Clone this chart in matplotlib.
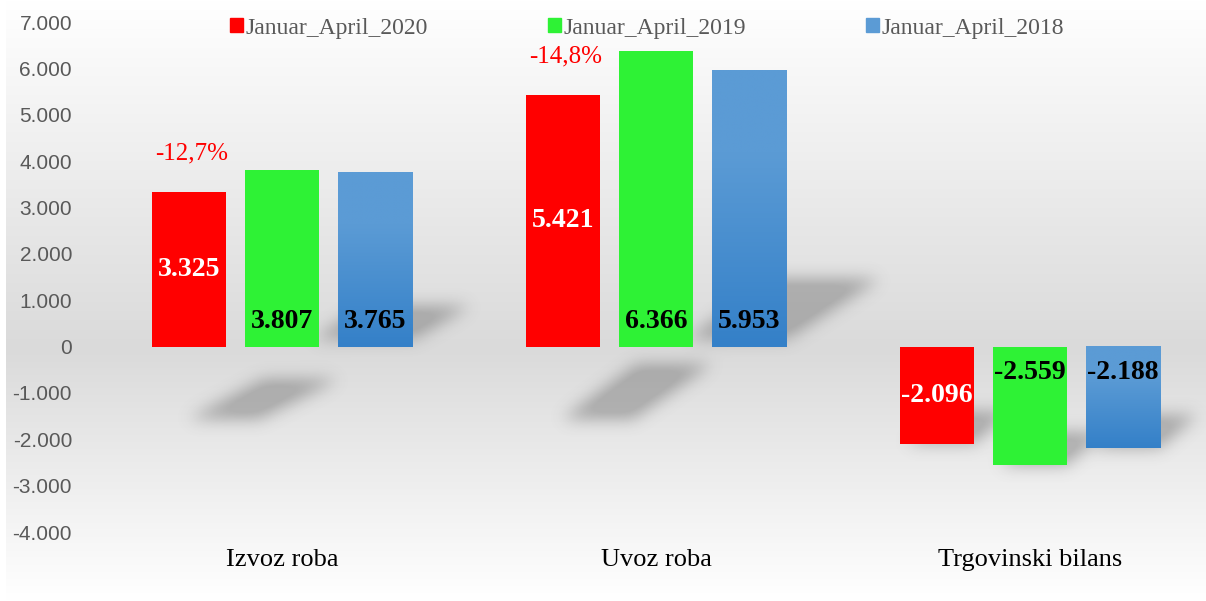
import numpy as np
import matplotlib.pyplot as plt
from matplotlib.path import Path
from matplotlib.patches import Rectangle

# data
categories = ["Izvoz roba", "Uvoz roba", "Trgovinski bilans"]
series_names = ["Januar_April_2020", "Januar_April_2019", "Januar_April_2018"]
values_2020 = [3325, 5421, -2096]
values_2019 = [3807, 6366, -2559]
values_2018 = [3765, 5953, -2188]
change_labels = ["-12,7%", "-14,8%", None]
yticks = [-4000, -3000, -2000, -1000, 0, 1000, 2000, 3000, 4000, 5000, 6000, 7000]

RED = "#ff0000"
GREEN = "#2ef235"
BLUE_TOP = np.array([91, 155, 213]) / 255
BLUE_BOT = np.array([52, 128, 200]) / 255
SERIF = "Liberation Serif"
SANS = "Liberation Sans"


def fmt(v):
    return f"{v:,}".replace(",", ".")


def blur(a, s):
    r = int(3 * s)
    k = np.exp(-0.5 * (np.arange(-r, r + 1) / s) ** 2)
    k /= k.sum()
    a = np.apply_along_axis(lambda m: np.convolve(m, k, mode="same"), 0, a)
    a = np.apply_along_axis(lambda m: np.convolve(m, k, mode="same"), 1, a)
    return a


W, H = 1206, 601
fig = plt.figure(figsize=(W / 100, H / 100), dpi=100)

# background gradient
bg = fig.add_axes([6 / W, 0, 1 - 6 / W, 1], zorder=-10)
bg.axis("off")
t = np.linspace(0, 1, 300)
g = np.interp(t, [0, 0.1, 0.58, 0.85, 1], [1.0, 0.975, 0.855, 0.95, 1.0])
grad = np.stack([g, g, g], axis=1)[:, None, :]
bg.imshow(grad, aspect="auto", extent=(0, 1, 0, 1))

ax = fig.add_axes([95 / W, 69 / H, 1111 / W, 510 / H])
ax.patch.set_alpha(0)
xmin, xmax = -0.5, -0.5 + 1111 / 374
ymin, ymax = -4000, 7000

x = np.arange(len(categories))
width = 0.198
step = 0.249
series = [values_2020, values_2019, values_2018]

# soft perspective shadows behind the bars
nx, ny = 1111, 510
xs = np.linspace(xmin, xmax, nx)
ys = np.linspace(ymax, ymin, ny)
XX, YY = np.meshgrid(xs, ys)
pts = np.column_stack([XX.ravel(), YY.ravel()])
mask = np.zeros(XX.size)
for i in range(len(categories)):
    vals = [s[i] for s in series]
    c = x[i]
    if min(vals) > 0:
        h = max(vals)
        sh = 0.24 * h / 6366
        top = 0.23 * h
        poly = [(c + 0.08, 150), (c + 0.35, 150), (c + 0.36 + sh, top), (c + 0.08 + sh, top)]
        mask = np.maximum(mask, Path(poly).contains_points(pts))
        ty = -1200 + 0.13 * h
        poly = [(c - 0.25, -1560), (c - 0.06, -1560), (c + 0.15, ty), (c - 0.05, ty)]
        mask = np.maximum(mask, Path(poly).contains_points(pts))
    else:
        for j, v in enumerate(vals):
            xl = c + (j - 1) * step - width / 2
            poly = [(xl + 0.02, v), (xl + width, v), (xl + width + 0.1, v + 700), (xl + 0.12, v + 700)]
            mask = np.maximum(mask, Path(poly).contains_points(pts))
mask = blur(mask.reshape(ny, nx), 8)
shadow = np.zeros((ny, nx, 4))
shadow[..., :3] = 0.3
shadow[..., 3] = np.clip(mask * 0.42, 0, 0.34)
ax.imshow(shadow, extent=(xmin, xmax, ymin, ymax), aspect="auto", zorder=1,
          interpolation="bilinear")

# bars
colors = [RED, GREEN, BLUE_TOP]
handles = []
for j, (vals, col, name) in enumerate(zip(series, colors, series_names)):
    bars = ax.bar(x + (j - 1) * step, vals, width, color=col, zorder=2, label=name)
    handles.append(Rectangle((0, 0), 1, 1, color=col))
    if j == 2:
        for b in bars:
            bx, by = b.get_x(), b.get_y()
            bw, bh = b.get_width(), b.get_height()
            tt = np.linspace(0, 1, 100)[:, None]
            f = np.clip((tt - 0.3) / 0.7, 0, 1)
            img = BLUE_TOP * (1 - f) + BLUE_BOT * f
            y0, y1 = min(by, by + bh), max(by, by + bh)
            ax.imshow(img[:, None, :], extent=(bx, bx + bw, y0, y1), aspect="auto",
                      zorder=2.5, interpolation="bilinear")

# value labels
for i in range(len(categories)):
    v = values_2020[i]
    ax.text(x[i] - step, v / 2, fmt(v), ha="center", va="center", color="white",
            fontsize=20, fontweight="bold", family=SERIF, zorder=4)
    for j in (1, 2):
        v = series[j][i]
        ax.annotate(fmt(v), (x[i] + (j - 1) * step, 0), xytext=(0, 18 if v > 0 else -19),
                    textcoords="offset points", ha="center", va="center", color="black",
                    fontsize=20, fontweight="bold", family=SERIF, zorder=4)
    if change_labels[i]:
        ax.annotate(change_labels[i], (x[i] - step, values_2020[i]), xytext=(2, 28),
                    textcoords="offset points", ha="center", va="center", color=RED,
                    fontsize=18, family=SERIF, zorder=4)

ax.set_xlim(xmin, xmax)
ax.set_ylim(ymin, ymax)
ax.set_xticks(x, categories, fontsize=19, family=SERIF, color="black")
ax.set_yticks(yticks, [fmt(v) for v in yticks], fontsize=15, family=SANS, color="#595959")
ax.tick_params(axis="x", length=0, pad=12)
ax.tick_params(axis="y", length=0, pad=16.5)
for s in ax.spines.values():
    s.set_visible(False)

ax.legend(handles, series_names, ncol=3, loc="center", bbox_to_anchor=(0.497, 0.988),
          frameon=False, prop={"family": SERIF, "size": 17}, labelcolor="#595959",
          handlelength=0.55, handleheight=0.55, handletextpad=0.1, columnspacing=5.1,
          borderpad=0, borderaxespad=0)

fig.savefig("out.png", dpi=100)
